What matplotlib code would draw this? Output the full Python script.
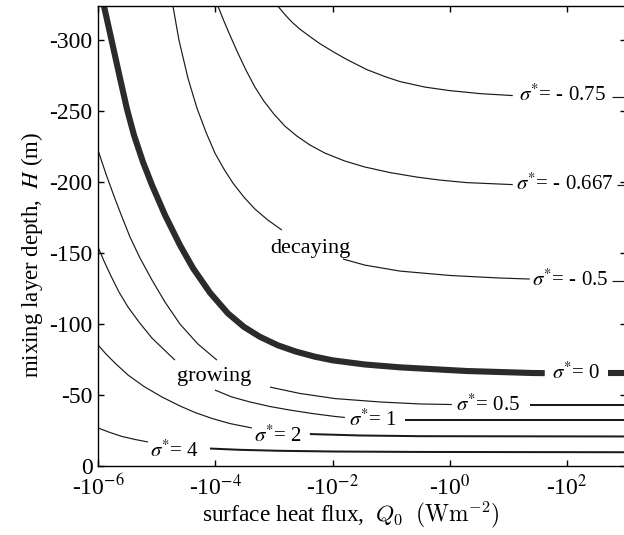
import numpy as np
import matplotlib
matplotlib.use('Agg')
import matplotlib.pyplot as plt
from matplotlib.ticker import FixedLocator, FixedFormatter, NullLocator

plt.rcParams['font.family'] = ['Liberation Serif', 'DejaVu Serif']
plt.rcParams['mathtext.fontset'] = 'stix'
plt.rcParams['axes.unicode_minus'] = False

nan = np.nan

# ---- data (Q0 in W m^-2, H in m); nan = break where a label sits ----
q0_s_m075 = [-1.165e-3, -1.533e-3, -2.017e-3, -2.761e-3, -4.089e-3, -6.053e-3, -1.008e-2, -1.745e-2,
             -3.824e-2, -7.75e-2, -0.1395, -0.3721, -0.9922, -3.219, -11.74, nan, -570.6, -1000]
h_s_m075 = [-323.9, -318.0, -312.7, -307.7, -302.5, -297.5, -291.9, -286.3,
            -279.2, -274.3, -270.8, -266.9, -264.4, -262.3, -260.9, nan, -260.2, -260.2]

q0_s_m0667 = [-1.107e-4, -1.401e-4, -1.773e-4, -2.427e-4, -3.321e-4, -4.727e-4, -6.727e-4, -9.961e-4,
              -1.533e-3, -2.455e-3, -4.089e-3, -7.362e-3, -1.613e-2, -3.536e-2, -9.428e-2, -0.2719,
              -0.6702, -1.933, -11.74, nan, -694.3, -1000]
h_s_m0667 = [-323.9, -313.4, -303.5, -290.8, -278.9, -266.9, -257.0, -247.9,
             -239.4, -232.4, -226.1, -220.4, -214.8, -210.6, -206.7, -203.5,
             -201.4, -199.6, -198.2, nan, -198.2, -198.2]

q0_s_m05 = [-1.895e-5, -2.398e-5, -3.413e-5, -4.859e-5, -6.915e-5, -9.845e-5, -1.401e-4, -1.994e-4,
            -3.070e-4, -4.727e-4, -7.872e-4, -1.363e-3, nan, -1.492e-2, -3.536e-2, -0.1395,
            -0.9922, -7.053, -22.88, nan, -570.6, -1000]
h_s_m05 = [-323.9, -300.0, -273.2, -252.1, -235.2, -220.4, -209.2, -199.3,
           -189.4, -181.0, -173.2, -166.2, nan, -145.8, -141.5, -137.3,
           -134.2, -132.4, -131.7, nan, -130.6, -130.6]

q0_s0 = [-1.265e-6, -1.732e-6, -2.370e-6, -3.119e-6, -4.104e-6, -5.843e-6, -8.316e-6, -1.385e-5,
         -2.493e-5, -4.153e-5, -8.091e-5, -1.639e-4, -3.070e-4, -5.752e-4, -1.165e-3, -2.360e-3,
         -4.974e-3, -1.008e-2, -3.536e-2, -0.1395, -1.933, -25.74, -41.2, nan, -487.5, -1000]
h_s0 = [-323.9, -298.6, -273.2, -251.4, -233.1, -214.1, -197.9, -176.8,
        -155.6, -139.4, -122.1, -107.5, -98.0, -91.0, -85.0, -80.6,
        -77.0, -74.4, -71.5, -69.5, -66.9, -65.5, -65.4, nan, -65.4, -65.4]

q0_s05 = [-1e-6, -1.369e-6, -1.874e-6, -2.564e-6, -3.510e-6, -5.194e-6, -8.316e-6, -1.385e-5,
          -2.493e-5, -5.052e-5, -1.065e-4, nan, -8.516e-4, -2.761e-3, -1.090e-2, -6.37e-2,
          -0.3058, -1.073, nan, -22.88, -1000]
h_s05 = [-222.5, -205.6, -190.1, -175.4, -161.3, -146.5, -131.0, -115.5,
         -100.0, -85.9, -74.6, nan, -55.6, -51.1, -47.5, -45.1,
         -43.7, -43.3, nan, -43.0, -43.0]

q0_s1 = [-1e-6, -1.265e-6, -1.665e-6, -2.279e-6, -3.244e-6, -4.995e-6, -8.316e-6, -1.385e-5,
         -2.050e-5, nan, -9.845e-5, -1.918e-4, -3.886e-4, -8.516e-4, -1.866e-3, -4.422e-3,
         -1.090e-2, -1.613e-2, nan, -0.1698, -1000]
h_s1 = [-154.2, -144.4, -133.8, -122.5, -112.0, -101.4, -90.1, -81.3,
        -74.6, nan, -53.5, -48.6, -45.1, -41.9, -39.4, -37.0,
        -34.9, -34.2, nan, -32.4, -32.4]

q0_s2 = [-1e-6, -1.369e-6, -1.949e-6, -3.244e-6, -6.076e-6, -1.231e-5, -2.493e-5, -4.493e-5,
         -8.751e-5, -1.773e-4, -4.201e-4, nan, -4.089e-3, -2.906e-2, -0.3058, -1000]
h_s2 = [-85.2, -78.9, -72.5, -64.1, -56.0, -48.6, -42.3, -37.7,
        -33.5, -29.9, -26.8, nan, -22.5, -21.5, -21.0, -20.8]

q0_s4 = [-1e-6, -1.601e-6, -2.564e-6, -4.268e-6, -7.109e-6, nan, -8.091e-5, -2.625e-4,
         -1.260e-3, -1.090e-2, -0.3058, -1000]
h_s4 = [-26.8, -23.6, -20.8, -18.7, -16.9, nan, -12.3, -11.4,
        -10.7, -10.2, -9.9, -9.7]

sigma_labels = ['- 0.75', '- 0.667', '- 0.5', '0', '0.5', '1', '2', '4']

x_ticks = [-1e-6, -1e-4, -1e-2, -1e0, -1e2]
x_tick_labels = [r'-10$^{-6}$', r'-10$^{-4}$', r'-10$^{-2}$', r'-10$^{0}$', r'-10$^{2}$']
y_ticks = [0, -50, -100, -150, -200, -250, -300]
y_tick_labels = ['0', '-50', '-100', '-150', '-200', '-250', '-300']


def segments(q, h):
    """Split a curve at its nan breaks."""
    q = -np.asarray(q, dtype=float)
    h = np.asarray(h, dtype=float)
    cuts = np.where(np.isnan(h))[0]
    out, start = [], 0
    for c in list(cuts) + [len(h)]:
        out.append((q[start:c], h[start:c]))
        start = c + 1
    return out


# ---- figure ----
fig = plt.figure(figsize=(6.24, 5.35), dpi=100)
ax = fig.add_axes([98 / 624, (535 - 466) / 535, (626 - 98) / 624, (466 - 6) / 535])

ink = '#1a1a1a'
upper = [(q0_s_m075, h_s_m075), (q0_s_m0667, h_s_m0667), (q0_s_m05, h_s_m05)]
lower = [(q0_s05, h_s05), (q0_s1, h_s1), (q0_s2, h_s2), (q0_s4, h_s4)]
for q, h in upper:
    for xs, ys in segments(q, h):
        ax.plot(xs, ys, color=ink, lw=0.85, solid_capstyle='butt')
for q, h in lower:
    segs = segments(q, h)
    for i, (xs, ys) in enumerate(segs):
        ax.plot(xs, ys, color=ink, lw=1.45 if i == len(segs) - 1 else 0.85,
                solid_capstyle='butt')
for xs, ys in segments(q0_s0, h_s0):
    ax.plot(xs, ys, color='#2b2b2b', lw=4.4, solid_capstyle='butt')

ax.set_xscale('log')
ax.set_xlim(1e-6, 1e3)
ax.set_ylim(0, -324)

ax.xaxis.set_major_locator(FixedLocator([-v for v in x_ticks]))
ax.xaxis.set_major_formatter(FixedFormatter(x_tick_labels))
ax.xaxis.set_minor_locator(NullLocator())
ax.yaxis.set_major_locator(FixedLocator(y_ticks))
ax.yaxis.set_major_formatter(FixedFormatter(y_tick_labels))
ax.tick_params(axis='both', which='major', direction='in', length=4.5, width=1.0,
               top=True, right=True, labelsize=17)
ax.tick_params(axis='x', pad=6)
ax.tick_params(axis='y', pad=4)
for s in ax.spines.values():
    s.set_linewidth(1.0)

# contour labels
lab_fs = 15
lab_pos = [(83.6, -261.0), (90, -198.4), (110, -131.0), (139, -65.5),
           (4.4, -43.0), (0.0484, -32.6), (1.16e-3, -21.4), (2.05e-5, -10.6)]
for (x, y), s in zip(lab_pos, sigma_labels):
    ax.text(x, y, r'$\sigma^{*}$= ' + s, ha='center', va='center', fontsize=lab_fs)

ax.text(4.09e-3, -153.5, 'decaying', ha='center', va='center', fontsize=16)
ax.text(9.46e-5, -62.7, 'growing', ha='center', va='center', fontsize=16)

ax.text(-0.125, 0.4587, r'mixing layer depth,  $H$ (m)', rotation=90, ha='center', va='center',
        fontsize=16.5, transform=ax.transAxes)
ax.text(0.479, -0.106, r'surface heat flux,  $Q_0$  $(\mathrm{Wm}^{-2})$', ha='center', va='center',
        fontsize=16.8, transform=ax.transAxes, math_fontfamily='cm')

fig.savefig('out.png', dpi=100)
